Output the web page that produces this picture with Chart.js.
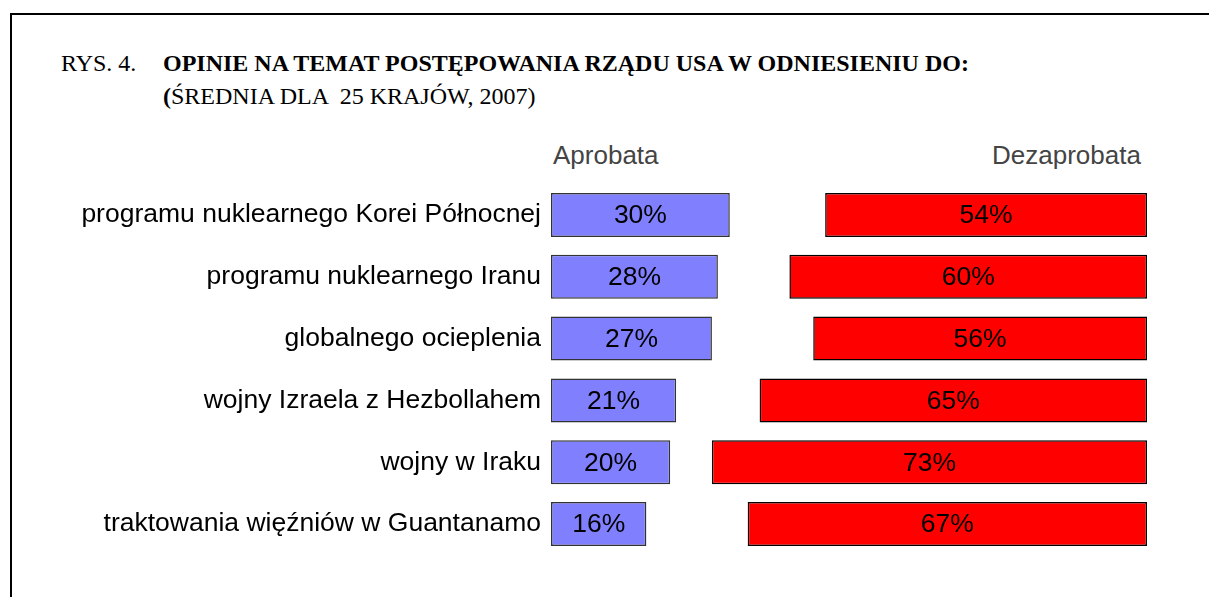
<!DOCTYPE html>
<html>
<head>
<meta charset="utf-8">
<script src="https://cdn.jsdelivr.net/npm/chart.js@4.4.0/dist/chart.umd.min.js"></script>
<style>
  html, body { margin: 0; padding: 0; background: #fff; overflow: hidden; }
  #wrap { position: relative; width: 1209px; height: 597px; }
  #frame { position: absolute; left: 10px; top: 13px; width: 1300px; height: 700px;
           border-left: 2px solid #000; border-top: 2px solid #000; }
  .serif { position: absolute; font-family: "Liberation Serif", "Times New Roman", serif;
           font-size: 24px; color: #000; white-space: pre; }
  .head { position: absolute; font-family: "Liberation Sans", Arial, sans-serif;
          font-size: 26px; color: #444; white-space: pre; }
  canvas { position: absolute; left: 0; top: 0; }
</style>
</head>
<body>
<div id="wrap">
  <div id="frame"></div>
  <div class="serif" style="left:61px; top:50px;">RYS. 4.</div>
  <div class="serif" style="left:163px; top:50px; font-weight:bold;">OPINIE NA TEMAT POSTĘPOWANIA RZĄDU USA W ODNIESIENIU DO:</div>
  <div class="serif" style="left:163px; top:83px;"><b>(</b>ŚREDNIA DLA  25 KRAJÓW, 2007)</div>
  <div class="head" style="left:553px; top:140px;">Aprobata</div>
  <div class="head" style="left:992px; top:140px;">Dezaprobata</div>
  <canvas id="chart" width="1209" height="597"></canvas>
</div>
<script>
// categories and values
const categories = [
  "programu nuklearnego Korei Północnej",
  "programu nuklearnego Iranu",
  "globalnego ocieplenia",
  "wojny Izraela z Hezbollahem",
  "wojny w Iraku",
  "traktowania więźniów w Guantanamo"
];
const approve = [30, 28, 27, 21, 20, 16];
const disapprove = [54, 60, 56, 65, 73, 67];
// the rest up to 100% (no opinion) is left blank
const rest = approve.map((a, i) => 100 - a - disapprove[i]);

const font = "'Liberation Sans', Arial, sans-serif";

// percentage labels inside the bars
const barLabels = {
  id: "barLabels",
  afterDatasetsDraw(chart) {
    const ctx = chart.ctx;
    ctx.save();
    ctx.font = "26.5px " + font;
    ctx.fillStyle = "#000";
    ctx.textAlign = "center";
    ctx.textBaseline = "middle";
    [0, 2].forEach(di => {
      const meta = chart.getDatasetMeta(di);
      const values = chart.data.datasets[di].data;
      meta.data.forEach((bar, i) => {
        const p = bar.getCenterPoint();
        ctx.fillText(values[i] + "%", p.x, p.y + 1);
      });
    });
    ctx.restore();
  }
};

new Chart(document.getElementById("chart"), {
  type: "bar",
  data: {
    labels: categories,
    datasets: [
      {
        label: "Aprobata",
        data: approve,
        backgroundColor: "#8080ff",
        borderColor: "#333",
        borderWidth: 1.5,
        borderSkipped: false
      },
      {
        label: "gap",
        data: rest,
        backgroundColor: "rgba(0,0,0,0)",
        borderWidth: 0
      },
      {
        label: "Dezaprobata",
        data: disapprove,
        backgroundColor: "#ff0000",
        borderColor: "#000",
        borderWidth: 1.5,
        borderSkipped: false
      }
    ]
  },
  options: {
    indexAxis: "y",
    responsive: false,
    animation: false,
    categoryPercentage: 0.712,
    barPercentage: 1,
    layout: { padding: { left: 0, right: 62, top: 184, bottom: 42 } },
    scales: {
      x: { stacked: true, min: 0, max: 100, display: false },
      y: {
        stacked: true,
        grid: { display: false, drawTicks: false },
        border: { display: false },
        ticks: { color: "#000", font: { family: font, size: 26.5 }, padding: 10 },
        afterFit(scale) { scale.width = 551; }
      }
    },
    plugins: {
      legend: { display: false },
      tooltip: { enabled: false }
    }
  },
  plugins: [barLabels]
});
</script>
</body>
</html>
